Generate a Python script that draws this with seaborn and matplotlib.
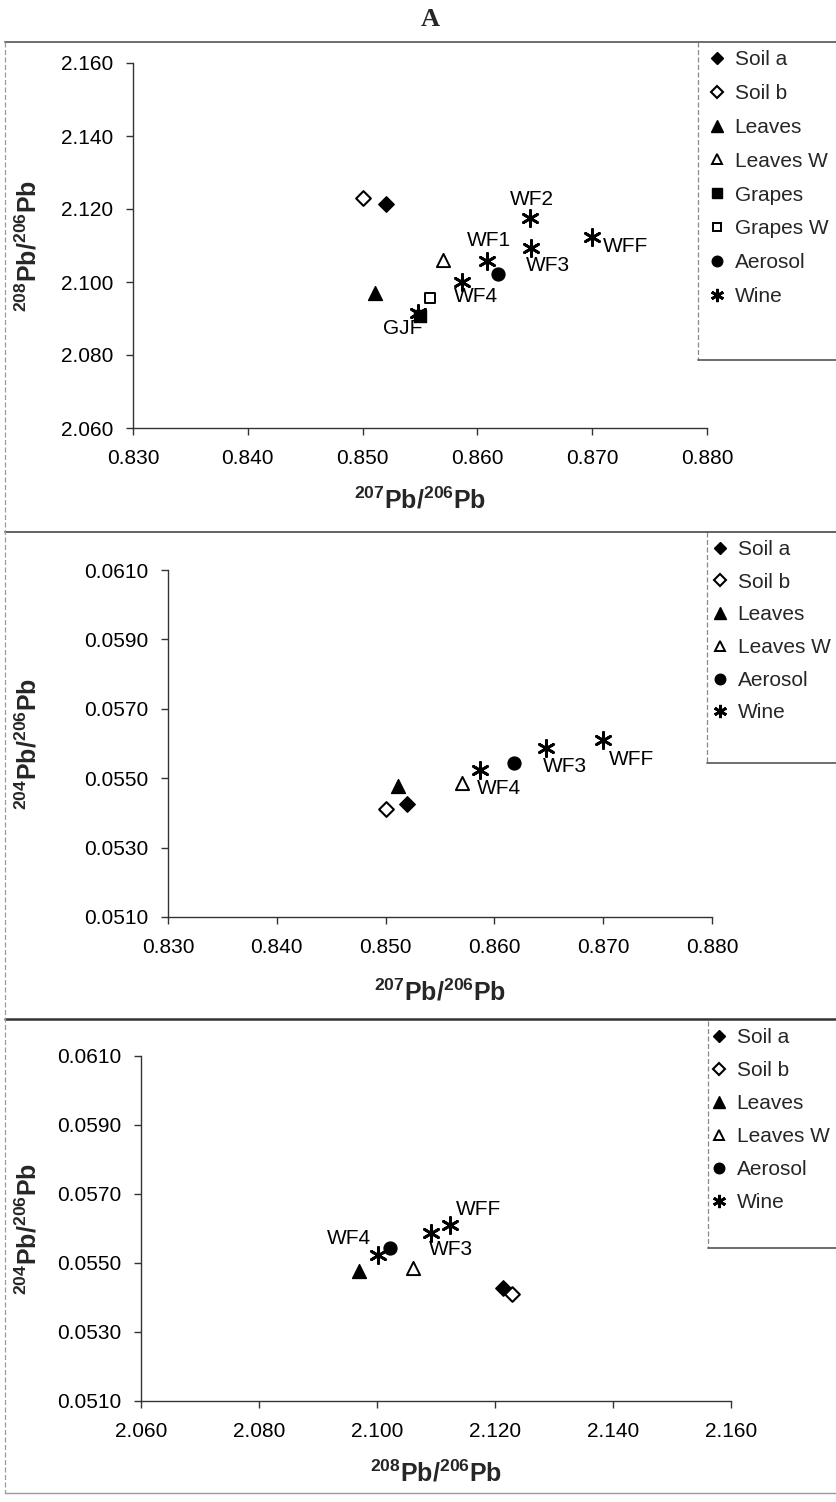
import numpy as np
import pandas as pd
import matplotlib
matplotlib.use("Agg")
import matplotlib.pyplot as plt
from matplotlib.lines import Line2D
from matplotlib.ticker import FormatStrFormatter
import seaborn as sns

# ---------------- data ----------------
samples = ["Soil a", "Soil b", "Leaves", "Leaves W", "Grapes", "Grapes W", "Aerosol"]
pb207_206 = [0.8520, 0.8500, 0.8511, 0.8570, 0.8550, 0.8559, 0.8618]
pb208_206 = [2.1213, 2.1229, 2.0970, 2.1061, 2.0907, 2.0955, 2.1022]
pb204_206 = [0.05427, 0.05410, 0.05477, 0.05485, np.nan, np.nan, 0.05543]

wine_ids = ["WF1", "WF2", "WF3", "WF4", "WFF", "GJF"]
wine_207_206 = [0.8608, 0.8646, 0.8647, 0.8587, 0.8700, 0.8548]
wine_208_206 = [2.1058, 2.1174, 2.1092, 2.1001, 2.1123, 2.0916]
wine_204_206 = [np.nan, np.nan, 0.05586, 0.05523, 0.05610, np.nan]

x_ticks_207 = [0.830, 0.840, 0.850, 0.860, 0.870, 0.880]
y_ticks_208 = [2.060, 2.080, 2.100, 2.120, 2.140, 2.160]
y_ticks_204 = [0.0510, 0.0530, 0.0550, 0.0570, 0.0590, 0.0610]

samples_df = pd.DataFrame({"sample": samples, "r76": pb207_206,
                           "r86": pb208_206, "r46": pb204_206})
wine_df = pd.DataFrame({"id": wine_ids, "r76": wine_207_206,
                        "r86": wine_208_206, "r46": wine_204_206})

# ---------------- style ----------------
sns.set_theme(style="white")
plt.rcParams["font.family"] = ["Liberation Sans", "DejaVu Sans"]
plt.rcParams["mathtext.default"] = "regular"

W, H = 836, 1502
fig = plt.figure(figsize=(W / 100, H / 100), dpi=100)
fig.patch.set_facecolor("white")


def fx(px):
    return px / W


def fy(py):
    return 1 - py / H


def add_axes(left, top, right, bottom):
    return fig.add_axes([fx(left), fy(bottom), fx(right) - fx(left), fy(top) - fy(bottom)])


STAR = (6, 2, 0)
styles = {
    "Soil a":   dict(marker="D", s=62, fc="black", ec="black", lw=1.0, ms=6.6),
    "Soil b":   dict(marker="D", s=56, fc="white", ec="black", lw=1.5, ms=6.2),
    "Leaves":   dict(marker="^", s=100, fc="black", ec="black", lw=1.0, ms=8.2),
    "Leaves W": dict(marker="^", s=90, fc="white", ec="black", lw=1.4, ms=7.6),
    "Grapes":   dict(marker="s", s=64, fc="black", ec="black", lw=1.0, ms=6.8),
    "Grapes W": dict(marker="s", s=58, fc="white", ec="black", lw=1.4, ms=6.4),
    "Aerosol":  dict(marker="o", s=86, fc="black", ec="black", lw=1.0, ms=7.6),
    "Wine":     dict(marker=STAR, s=135, fc="black", ec="black", lw=2.0, ms=9.5),
}
AX_COLOR = "#333333"


def draw_points(ax, xcol, ycol, names):
    for name in names:
        st = styles[name]
        if name == "Wine":
            d = wine_df.dropna(subset=[xcol, ycol])
        else:
            d = samples_df[samples_df["sample"] == name].dropna(subset=[xcol, ycol])
        sns.scatterplot(data=d, x=xcol, y=ycol, ax=ax, marker=st["marker"], s=st["s"],
                        color=st["fc"], edgecolor=st["ec"], linewidth=st["lw"],
                        legend=False, zorder=3)


def label_wines(ax, xcol, ycol, offsets):
    d = wine_df.dropna(subset=[xcol, ycol]).set_index("id")
    for wid, (dx, dy, ha) in offsets.items():
        ax.annotate(wid, xy=(d.loc[wid, xcol], d.loc[wid, ycol]), xytext=(dx, dy),
                    textcoords="offset pixels", ha=ha, va="center", fontsize=15,
                    color="black", zorder=4)


def format_axes(ax, box, xlim, xticks, xfmt, ylim, yticks, yfmt, xlabel, ylabel,
                xlabel_y, ylabel_x):
    left, top, right, bottom = box
    ax.set_xlim(*xlim)
    ax.set_ylim(*ylim)
    ax.set_xticks(xticks)
    ax.set_yticks(yticks)
    ax.xaxis.set_major_formatter(FormatStrFormatter(xfmt))
    ax.yaxis.set_major_formatter(FormatStrFormatter(yfmt))
    ax.set_facecolor("none")
    sns.despine(ax=ax)
    for sp in ("left", "bottom"):
        ax.spines[sp].set_color(AX_COLOR)
        ax.spines[sp].set_linewidth(1.0)
    ax.tick_params(axis="both", which="major", direction="out", length=5, width=1.0,
                   color=AX_COLOR, labelsize=15, labelcolor="black",
                   bottom=True, left=True)
    ax.tick_params(axis="x", pad=10)
    ax.tick_params(axis="y", pad=9)
    ax.set_xlabel(xlabel, fontsize=18, fontweight="bold")
    ax.set_ylabel(ylabel, fontsize=18, fontweight="bold")
    ax.xaxis.label.set_va("center")
    ax.yaxis.label.set_va("center")
    ax.yaxis.label.set_ha("center")
    ax.xaxis.set_label_coords(0.5, (bottom - xlabel_y) / (bottom - top))
    ax.yaxis.set_label_coords((ylabel_x - left) / (right - left), 0.5)
    ax.grid(False)


def draw_legend(ax, names, box_left, box_top, box_bottom, handle_x, first_y, spacing):
    handles = []
    for name in names:
        st = styles[name]
        handles.append(Line2D([], [], linestyle="none", marker=st["marker"],
                              markersize=st["ms"], markerfacecolor=st["fc"],
                              markeredgecolor=st["ec"], markeredgewidth=st["lw"],
                              color="black"))
    fs_px = 15 * 100 / 72
    leg = ax.legend(handles, names, loc="upper left",
                    bbox_to_anchor=(fx(handle_x - 0.5 * fs_px), fy(first_y - 12)),
                    bbox_transform=fig.transFigure, frameon=False, fontsize=15,
                    handlelength=1.0, handletextpad=0.35, borderpad=0,
                    borderaxespad=0, labelspacing=(spacing - 24.5) / fs_px)
    leg.set_zorder(5)
    # legend box: dashed left edge, solid bottom edge, open to the right
    fig.add_artist(Line2D([fx(box_left), fx(box_left)], [fy(box_top), fy(box_bottom)],
                          transform=fig.transFigure, color="#8a8a8a", lw=0.9,
                          linestyle=(0, (4, 2))))
    fig.add_artist(Line2D([fx(box_left), 1.0], [fy(box_bottom), fy(box_bottom)],
                          transform=fig.transFigure, color="#555555", lw=1.2))


lab76 = r"$^{207}$Pb/$^{206}$Pb"
lab86 = r"$^{208}$Pb/$^{206}$Pb"
lab46 = r"$^{204}$Pb/$^{206}$Pb"

# ---------------- panel 1: 208/206 vs 207/206 ----------------
box1 = (133, 63, 707, 428)
ax1 = add_axes(*box1)
draw_points(ax1, "r76", "r86", ["Soil a", "Soil b", "Leaves", "Leaves W",
                                "Grapes", "Grapes W", "Aerosol", "Wine"])
label_wines(ax1, "r76", "r86", {"WF1": (2, 20, "center"), "WF2": (2, 19, "center"),
                                "WF3": (-5, -17, "left"), "WF4": (-9, -15, "left"),
                                "WFF": (11, -9, "left"), "GJF": (5, -16, "right")})
format_axes(ax1, box1, (0.830, 0.880), x_ticks_207, "%.3f", (2.060, 2.160), y_ticks_208,
            "%.3f", lab76, lab86, 500, 28)
draw_legend(ax1, ["Soil a", "Soil b", "Leaves", "Leaves W", "Grapes", "Grapes W",
                  "Aerosol", "Wine"], 698, 42, 360, 717, 62, 39.4)

# ---------------- panel 2: 204/206 vs 207/206 ----------------
box2 = (168, 570, 712, 917)
ax2 = add_axes(*box2)
draw_points(ax2, "r76", "r46", ["Soil a", "Soil b", "Leaves", "Leaves W", "Aerosol", "Wine"])
label_wines(ax2, "r76", "r46", {"WF3": (-3, -18, "left"), "WF4": (-3, -18, "left"),
                                "WFF": (6, -19, "left")})
format_axes(ax2, box2, (0.830, 0.880), x_ticks_207, "%.3f", (0.0510, 0.0610), y_ticks_204,
            "%.4f", lab76, lab46, 992, 28)
draw_legend(ax2, ["Soil a", "Soil b", "Leaves", "Leaves W", "Aerosol", "Wine"],
            707, 532, 763, 720, 552, 38.2)

# ---------------- panel 3: 204/206 vs 208/206 ----------------
box3 = (141, 1056, 731, 1401)
ax3 = add_axes(*box3)
draw_points(ax3, "r86", "r46", ["Soil a", "Soil b", "Leaves", "Leaves W", "Aerosol", "Wine"])
label_wines(ax3, "r86", "r46", {"WF4": (-7, 17, "right"), "WFF": (6, 16, "left"),
                                "WF3": (-2, -16, "left")})
format_axes(ax3, box3, (2.060, 2.160), y_ticks_208, "%.3f", (0.0510, 0.0610), y_ticks_204,
            "%.4f", lab86, lab46, 1473, 28)
draw_legend(ax3, ["Soil a", "Soil b", "Leaves", "Leaves W", "Aerosol", "Wine"],
            708, 1021, 1248, 719, 1040, 38.6)

# ---------------- page frame and heading ----------------
fig.add_artist(Line2D([fx(5), 1.0], [fy(42), fy(42)], transform=fig.transFigure,
                      color="#6e6e6e", lw=1.4))
fig.add_artist(Line2D([fx(5), 1.0], [fy(532), fy(532)], transform=fig.transFigure,
                      color="#555555", lw=1.3))
fig.add_artist(Line2D([fx(5), 1.0], [fy(1019), fy(1019)], transform=fig.transFigure,
                      color="#333333", lw=1.8))
fig.add_artist(Line2D([fx(5), 1.0], [fy(1493), fy(1493)], transform=fig.transFigure,
                      color="#9a9a9a", lw=1.0))
fig.add_artist(Line2D([fx(5), fx(5)], [fy(42), fy(1493)], transform=fig.transFigure,
                      color="#9a9a9a", lw=0.9, linestyle=(0, (4, 2))))

fig.text(fx(430), fy(20), "A", family=["Liberation Serif", "DejaVu Serif"],
         fontweight="bold", fontsize=19, ha="center", va="center")

fig.savefig("out.png", dpi=100, facecolor="white")
